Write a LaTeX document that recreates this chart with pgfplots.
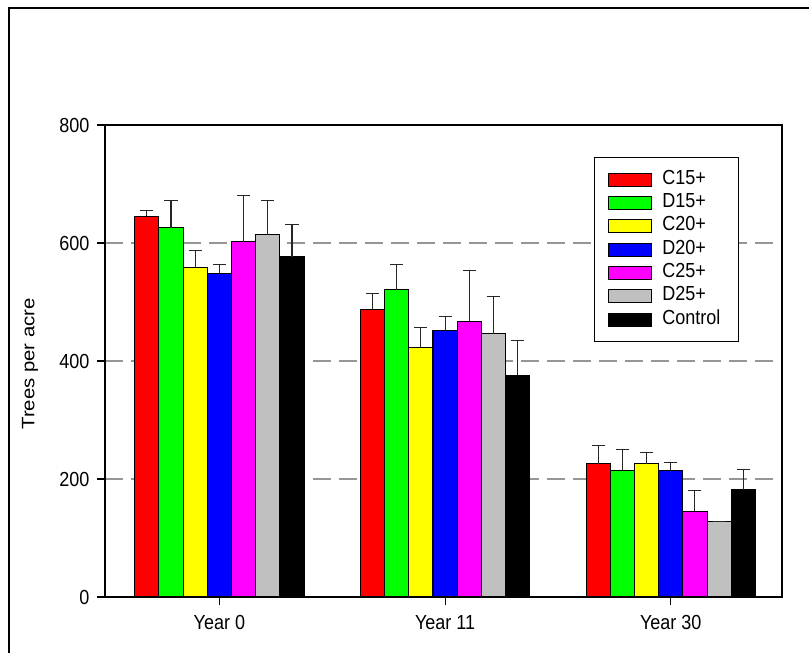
\documentclass[border=0pt]{standalone}
\usepackage{pgfplots}
\pgfplotsset{compat=1.18}
\usepackage{graphicx}
\usepackage{fontspec}
\setmainfont{Liberation Sans}
\definecolor{cred}{RGB}{255,0,0}
\definecolor{cgreen}{RGB}{0,255,0}
\definecolor{cyellow}{RGB}{255,255,0}
\definecolor{cblue}{RGB}{0,0,255}
\definecolor{cmag}{RGB}{255,0,255}
\definecolor{cgray}{RGB}{192,192,192}
\definecolor{gridc}{RGB}{150,150,150}
\newcommand{\chfont}{\fontsize{13.5}{15}\selectfont}
\newcommand{\tall}[1]{\scalebox{1}[1.13]{#1}}
\begin{document}
\chfont
\begin{tikzpicture}[font=\chfont]
\path[use as bounding box] (0pt,0pt) rectangle (606.75pt,489.75pt);
\draw[line width=1.3pt] (6.75pt,0pt) -- (6.75pt,483.75pt) -- (606.75pt,483.75pt);
\begin{axis}[
  at={(78.75pt,42pt)}, anchor=south west,
  scale only axis, width=507.75pt, height=354pt,
  xmin=-0.507, xmax=2.493, ymin=0, ymax=800,
  ybar=0pt, bar width=18.15pt,
  xtick={0,1,2}, xticklabels={\tall{Year 0}, \tall{Year 11}, \tall{Year 30}},
  ytick={0,200,400,600,800},
  yticklabel={\tall{\pgfmathprintnumber{\tick}}},
  tick align=outside, xtick pos=lower, ytick pos=left,
  major tick length=6pt,
  tick style={black, line width=0.8pt},
  axis line style={black, line width=0.8pt},
  /pgf/number format/assume math mode=true,
  tick label style={font=\chfont},
  label style={font=\chfont},
  yticklabel style={xshift=-1pt},
  xticklabel style={yshift=-3pt},
  ylabel={\scalebox{1.13}[1]{Trees per acre}},
  ylabel style={at={(axis description cs:-0.1107,0.494)}, anchor=center},
  ymajorgrids,
  grid style={dash pattern=on 13.5pt off 6pt, color=gridc, line width=0.8pt},
  legend image code/.code={\draw[#1,draw=black,line width=0.6pt] (0pt,-4.9pt) rectangle (32.25pt,4.9pt);},
  legend cell align=left,
  legend style={at={(axis description cs:0.7223,0.9322)}, anchor=north west,
    draw=black, line width=0.8pt, fill=white, font=\chfont,
    inner xsep=9.75pt, inner ysep=10.5pt,
    row sep=5.5pt, column sep=8.25pt,
    nodes={inner sep=0pt, text height=9.5pt, text depth=2.5pt}},
  error bars/error bar style={black!85, line width=0.8pt},
  error bars/error mark options={rotate=90, mark size=4.9pt, black!85, line width=0.8pt},
]
\addplot[fill=cred, draw=black, line width=0.8pt, error bars/.cd, y dir=plus, y explicit]
  coordinates {(0,645) +- (0,10) (1,488) +- (0,26) (2,226) +- (0,31)};
\addlegendentry{\makebox[47.25pt][l]{\tall{C15+}}}
\addplot[fill=cgreen, draw=black, line width=0.8pt, error bars/.cd, y dir=plus, y explicit]
  coordinates {(0,626) +- (0,46) (1,521) +- (0,43) (2,214) +- (0,36)};
\addlegendentry{\tall{D15+}}
\addplot[fill=cyellow, draw=black, line width=0.8pt, error bars/.cd, y dir=plus, y explicit]
  coordinates {(0,559) +- (0,29) (1,423) +- (0,34) (2,226) +- (0,19)};
\addlegendentry{\tall{C20+}}
\addplot[fill=cblue, draw=black, line width=0.8pt, error bars/.cd, y dir=plus, y explicit]
  coordinates {(0,549) +- (0,15) (1,452) +- (0,24) (2,214) +- (0,14)};
\addlegendentry{\tall{D20+}}
\addplot[fill=cmag, draw=black, line width=0.8pt, error bars/.cd, y dir=plus, y explicit]
  coordinates {(0,602) +- (0,79) (1,467) +- (0,87) (2,145) +- (0,35)};
\addlegendentry{\tall{C25+}}
\addplot[fill=cgray, draw=black, line width=0.8pt, error bars/.cd, y dir=plus, y explicit]
  coordinates {(0,614) +- (0,58) (1,446) +- (0,63) (2,128) +- (0,0)};
\addlegendentry{\tall{D25+}}
\addplot[fill=black, draw=black, line width=0.8pt, error bars/.cd, y dir=plus, y explicit]
  coordinates {(0,577) +- (0,54) (1,376) +- (0,58) (2,182) +- (0,34)};
\addlegendentry{\tall{Control}}
\end{axis}
\end{tikzpicture}
\end{document}
